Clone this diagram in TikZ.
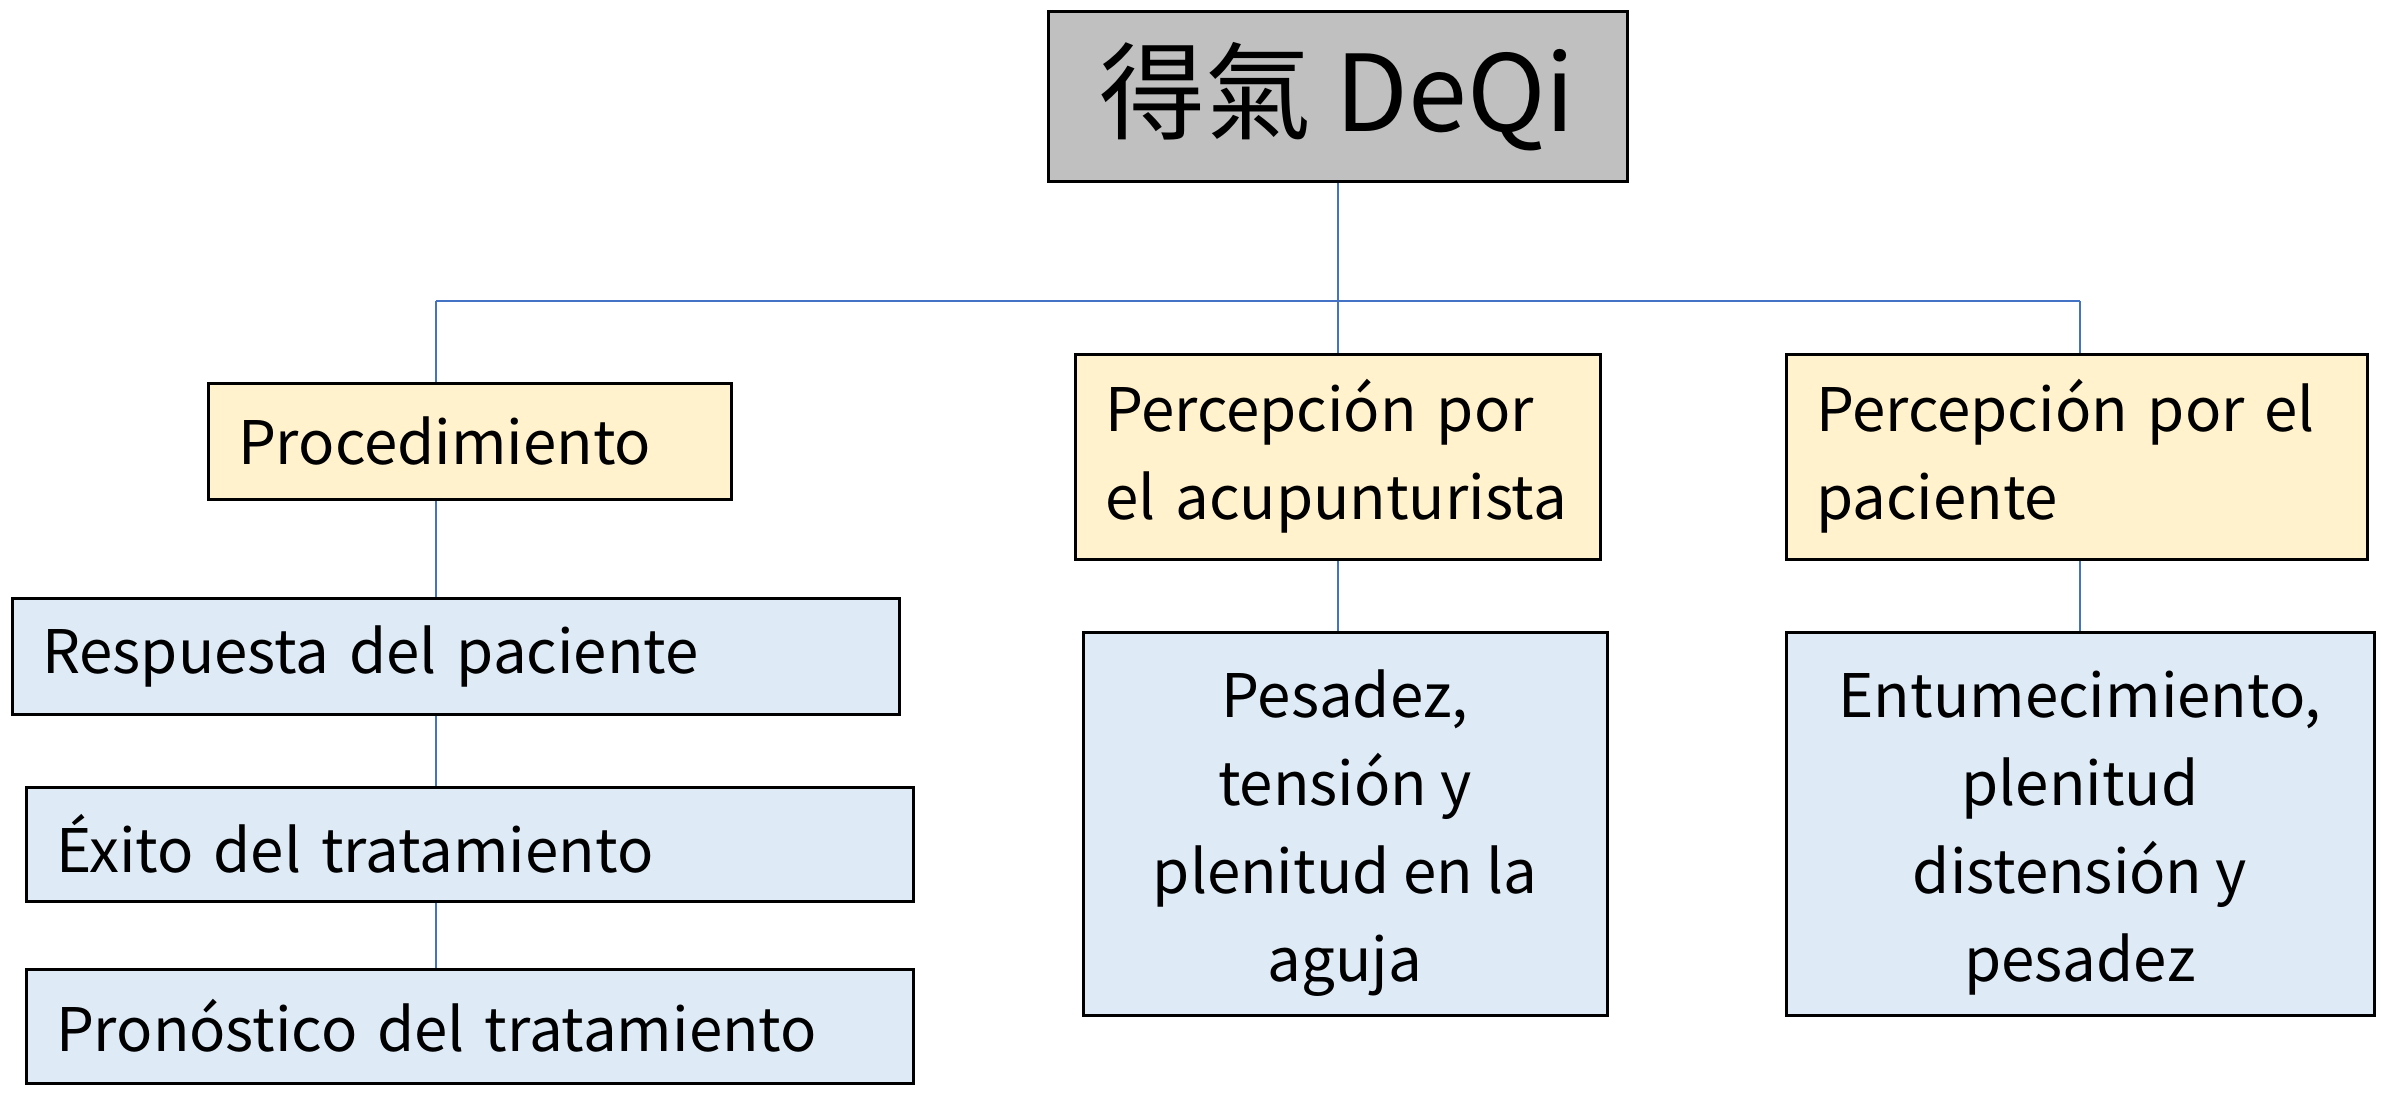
\documentclass[tikz,border=0pt]{standalone}
\usepackage{fontspec}
\setmainfont{Noto Sans CJK TC}
\definecolor{grayfill}{RGB}{192,192,192}
\definecolor{yelfill}{RGB}{255,242,204}
\definecolor{bluefill}{RGB}{222,235,247}
\definecolor{linkblue}{RGB}{68,114,196}
\tikzset{
  box/.style={draw=black, line width=3pt, inner ysep=0pt, font=\fontsize{60}{88}\selectfont},
  lbox/.style={box, align=left, inner xsep=30pt},
  cbox/.style={box, inner sep=0pt},
  ctext/.style={align=center, inner sep=0pt, font=\fontsize{60}{88}\selectfont},
  conn/.style={draw=linkblue, line width=2pt}
}
\begin{document}
\begin{tikzpicture}[x=1pt,y=-1pt]
\useasboundingbox (0,0) rectangle (2382,1097);
% top
\node[box, fill=grayfill, minimum width=579pt, minimum height=169pt, font=\fontsize{106}{116}\selectfont] (top) at (1337.5,96.5) {得氣 DeQi};
% level 1
\node[lbox, fill=yelfill, text width=463pt, minimum height=116pt] (proc) at (469.5,441) {Procedimiento};
\node[lbox, fill=yelfill, text width=465pt, minimum height=205pt] (acup) at (1337.5,456.5) {Percepción por\\el acupunturista};
\node[lbox, fill=yelfill, text width=521pt, minimum height=205pt] (pac) at (2076.5,456.5) {Percepción por el\\paciente};
% left column
\node[lbox, fill=bluefill, text width=827pt, minimum height=116pt] (resp) at (455.5,656) {Respuesta del paciente};
\node[lbox, fill=bluefill, text width=827pt, minimum height=114pt] (exito) at (469.5,844) {Éxito del tratamiento};
\node[lbox, fill=bluefill, text width=827pt, minimum height=114pt] (pron) at (469.5,1026) {Pronóstico del tratamiento};
% lower boxes
\node[cbox, fill=bluefill, minimum width=524pt, minimum height=383pt] (pes) at (1345,823.5) {};
\node[ctext, yshift=-10pt] (pesT) at (pes.center) {Pesadez,\\tensión y\\plenitud en la\\aguja};
\node[cbox, fill=bluefill, minimum width=588pt, minimum height=383pt] (ent) at (2080,823.5) {};
\node[ctext, yshift=-10pt] (entT) at (ent.center) {Entumecimiento,\\plenitud\\distensión y\\pesadez};
% connectors
\coordinate (jL) at (436,301);
\coordinate (jM) at (top.south |- jL);
\coordinate (jR) at (2080,301);
\draw[conn] (top.south) -- (jM);
\draw[conn] (jL) -- (jR);
\draw[conn] (jL) -- (jL |- proc.north);
\draw[conn] (proc.south -| jL) -- (resp.north -| jL);
\draw[conn] (resp.south -| jL) -- (exito.north -| jL);
\draw[conn] (exito.south -| jL) -- (pron.north -| jL);
\draw[conn] (jM) -- (acup.north);
\draw[conn] (acup.south) -- (acup.south |- pes.north);
\draw[conn] (jR) -- (jR |- pac.north);
\draw[conn] (pac.south -| jR) -- (ent.north -| jR);
\end{tikzpicture}
\end{document}
